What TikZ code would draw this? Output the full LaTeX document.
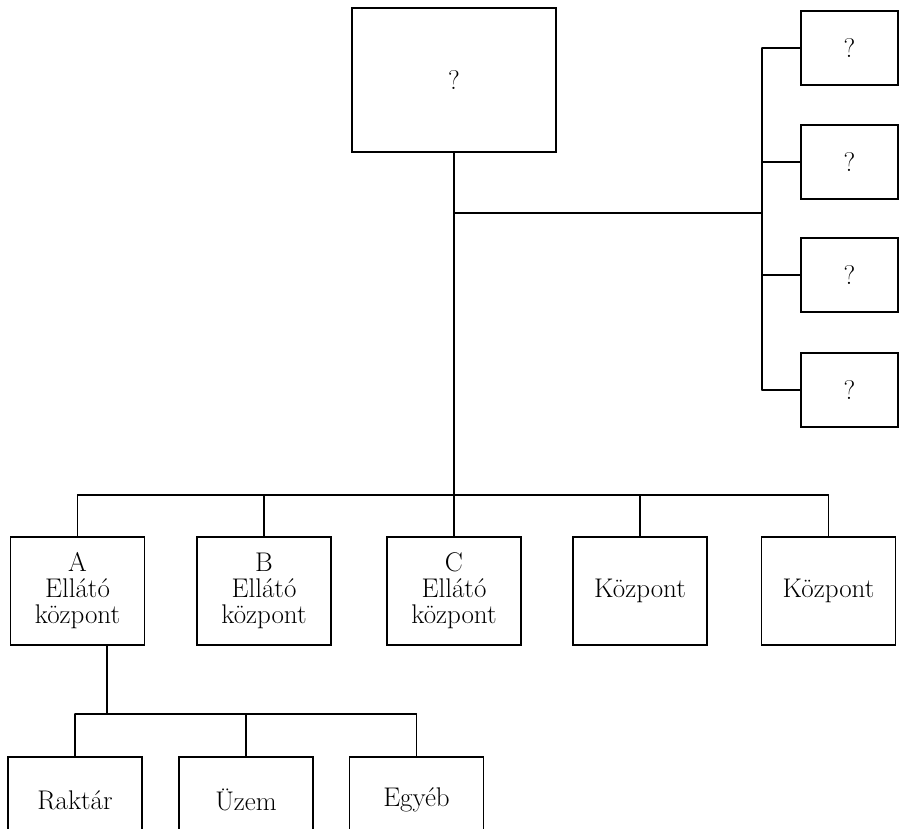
\documentclass[tikz,border=0pt]{standalone}
\usetikzlibrary{positioning}
\tikzset{
  box/.style={draw,inner sep=0pt,align=center,font=\fontsize{27}{26}\selectfont},
  qbox/.style={box,minimum width=97pt,minimum height=74pt},
  unit/.style={box,minimum width=134pt,minimum height=108pt},
  leaf/.style={box,minimum width=134pt,minimum height=86pt},
}
\begin{document}
\begin{tikzpicture}[x=1pt,y=-1pt,line width=1.2pt,line cap=round]
            \path[use as bounding box,clip] (0,0) rectangle (905,829);
            % top and side boxes
            \node[box,minimum width=204pt,minimum height=144pt] (top) at (454,80) {?};
            \foreach \i/\y in {1/48,2/162,3/275,4/390}
                \node[qbox] (q\i) at (849.5,\y) {?};
            % second level
            \node[unit] (A) at (77.5,591) {A\\Ellátó\\központ};
            \node[unit] (B) at (264,591) {B\\Ellátó\\központ};
            \node[unit] (C) at (454,591) {C\\Ellátó\\központ};
            \node[unit] (K1) at (640,591) {Központ};
            \node[unit] (K2) at (828.5,591) {Központ};
            % third level
            \node[leaf] (R) at (75,800) {Raktár};
            \node[leaf] (U) at (246,800) {Üzem};
            \node[leaf] (E) at (416.5,800) {Egyéb};
            \coordinate (rbar) at (762,213);
            \coordinate (mid) at (454,495);
            \coordinate (sub) at (107,714);
            \draw (top.south) -- (mid);
            \draw (top.south |- rbar) -- (rbar);
            \draw (rbar |- q1) -- (rbar |- q4);
            \foreach \i in {1,...,4}
                \draw (rbar |- q\i) -- (q\i.west);
            \draw (A |- mid) -- (K2 |- mid);
            \foreach \n in {A,B,C,K1,K2}
                \draw (\n |- mid) -- (\n.north);
            \draw (A.south -| sub) -- (sub);
            \draw (R |- sub) -- (E |- sub);
            \foreach \n in {R,U,E}
                \draw (\n |- sub) -- (\n.north);
        \end{tikzpicture}
\end{document}
